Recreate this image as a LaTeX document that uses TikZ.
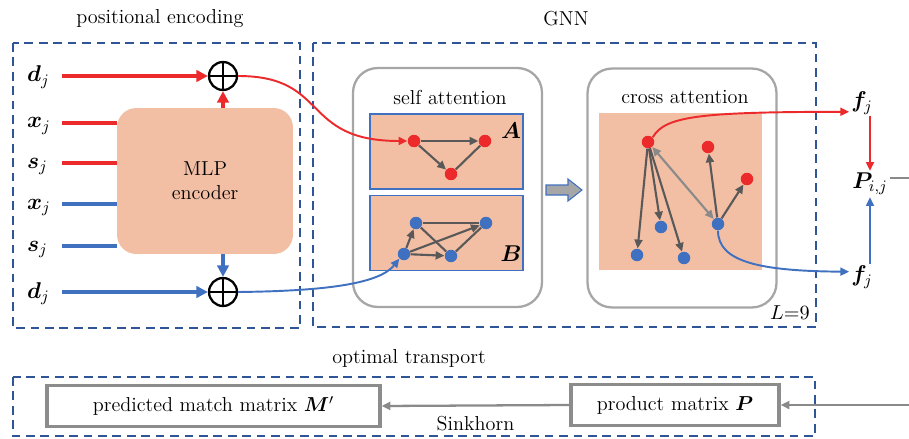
\RequirePackage{fix-cm}
\documentclass[tikz,border=0pt]{standalone}
\usepackage{amsmath,amssymb,bm}
\usepackage{xcolor}
\usepackage{tikz}
\usetikzlibrary{calc,arrows.meta}
\definecolor{peach}{HTML}{F2BFA4}
\definecolor{hot}{HTML}{EC2A2B}
\definecolor{cool}{HTML}{4070C0}
\definecolor{frameblue}{HTML}{2F5596}
\definecolor{boxgray}{HTML}{A6A6A6}
\definecolor{matgray}{HTML}{8C8C8C}
\definecolor{edge}{HTML}{595959}
\definecolor{edgelight}{HTML}{8A8A8A}
\tikzset{
  frame/.style={draw=frameblue, line width=1.3pt, dash pattern=on 5pt off 3.2pt},
  vec/.style={inner sep=1pt, font=\fontsize{13}{15}\selectfont},
  mlp/.style={fill=peach, rounded corners=11pt, minimum width=3.52cm, minimum height=2.92cm, align=center},
  plus/.style={circle, draw, line width=1.3pt, minimum size=0.56cm, inner sep=0pt,
    path picture={\draw[line width=1.3pt] (path picture bounding box.north) -- (path picture bounding box.south)
      (path picture bounding box.west) -- (path picture bounding box.east);}},
  hotin/.style={draw=hot, line width=2.3pt},
  coolin/.style={draw=cool, line width=2.3pt},
  tipbig/.style={-{Triangle[length=6.5pt,width=6.5pt]}},
  hotcurve/.style={draw=hot, line width=1.1pt, -{Triangle[length=5pt,width=4.5pt]}},
  coolcurve/.style={draw=cool, line width=1.1pt, -{Triangle[length=5pt,width=4.5pt]}},
  stage/.style={draw=boxgray, line width=1.3pt, rounded corners=14pt, minimum width=3.78cm, minimum height=4.78cm},
  graphbg/.style={fill=peach, draw=cool, line width=0.6pt, minimum width=3.06cm, minimum height=1.5cm},
  hotdot/.style={circle, fill=hot, inner sep=0pt, minimum size=0.25cm},
  cooldot/.style={circle, fill=cool, inner sep=0pt, minimum size=0.25cm},
  edgeln/.style={draw=edge, line width=1.2pt},
  edgearr/.style={edgeln, -{Triangle[length=5pt,width=4.5pt]}},
  edgedbl/.style={draw=edgelight, line width=1.2pt, {Triangle[length=5pt,width=4.5pt]}-{Triangle[length=5pt,width=4.5pt]}},
  matbox/.style={draw=matgray, line width=1.8pt, minimum height=0.82cm},
  flow/.style={draw=edgelight, line width=1.3pt, -{Triangle[length=5pt,width=4.5pt]}},
  flowln/.style={draw=edgelight, line width=1.3pt}
}
\begin{document}
\begin{tikzpicture}[x=0.02cm, y=-0.02cm, every node/.append style={font=\fontsize{11.5}{13.5}\selectfont}]
\useasboundingbox (0,0) rectangle (909,439);

\node (tPE) at (160,19) {positional encoding};
\node (tGNN) at (566,19) {GNN};
\node (tOT) at (409,358) {optimal transport};
\draw[frame] (13,43) rectangle (300,328);
\draw[frame] (313,43) rectangle (816,327);
\draw[frame] (13,377) rectangle (815,436);

\node[mlp] (mlp) at (205,181) {MLP\\encoder};
\node[plus] (opA) at (223,76) {};
\node[plus] (opB) at (223,292) {};

\node[vec, anchor=base west] (dA) at (25,82) {$\bm{d}_j$};
\node[vec, anchor=base west] (xA) at (25,128) {$\bm{x}_j$};
\node[vec, anchor=base west] (sA) at (25,168) {$\bm{s}_j$};
\node[vec, anchor=base west] (xB) at (25,209) {$\bm{x}_j$};
\node[vec, anchor=base west] (sB) at (25,251) {$\bm{s}_j$};
\node[vec, anchor=base west] (dB) at (25,298) {$\bm{d}_j$};

\coordinate (inA) at (62,76);
\coordinate (inB) at (62,123);
\coordinate (inC) at (62,163);
\coordinate (inD) at (62,204);
\coordinate (inE) at (62,246);
\coordinate (inF) at (62,292);
\draw[hotin, tipbig] (inA) -- (opA.west);
\draw[hotin] (inB) -- (inB -| mlp.west);
\draw[hotin] (inC) -- (inC -| mlp.west);
\draw[coolin] (inD) -- (inD -| mlp.west);
\draw[coolin] (inE) -- (inE -| mlp.west);
\draw[coolin, tipbig] (inF) -- (opB.west);
\draw[hotin, tipbig] (mlp.north -| opA) -- (opA.south);
\draw[coolin, tipbig] (mlp.south -| opB) -- (opB.north);

\node[stage] (selfSt) at (447.5,187.5) {};
\node (selfT) at (450,97) {self attention};
\node[graphbg] (grA) at (446.5,151.5) {};
\node[graphbg] (grB) at (446.5,233) {};
\node[vec] (labA) at (511,131) {$\bm{A}$};
\node[vec] (labB) at (511,254) {$\bm{B}$};
\node[hotdot] (a1) at (414,141) {};
\node[hotdot] (a2) at (485,141) {};
\node[hotdot] (a3) at (451,174) {};
\node[cooldot] (b1) at (416,223) {};
\node[cooldot] (b2) at (486,223) {};
\node[cooldot] (b3) at (404,254) {};
\node[cooldot] (b4) at (451,256) {};
\draw[edgearr] (a1) -- (a2);
\draw[edgearr] (a1) -- (a3);
\draw[edgeln] (a3) -- (a2);
\draw[edgeln] (b1) -- (b2);
\draw[edgeln] (b1) -- (b4);
\draw[edgeln] (b4) -- (b2);
\draw[edgearr] (b3) -- (b1);
\draw[edgearr] (b3) -- (b2);
\draw[edgearr] (b3) -- (b4);

\draw[hotcurve] (opA.east) .. controls (330,76) and (300,141) .. (a1.west);
\draw[coolcurve] (opB.east) .. controls (330,291) and (380,283) .. (b3.south west);

\draw[fill=boxgray, draw=cool, line width=0.6pt] (546,185) -- (568,185) -- (568,179) -- (582,190)
  -- (568,201) -- (568,195) -- (546,195) -- cycle;

\node[stage] (crossSt) at (682,188) {};
\node (crossT) at (685,97) {cross attention};
\node[fill=peach, minimum width=3.26cm, minimum height=3.14cm] (grC) at (680.5,191.5) {};
\node[hotdot] (r1) at (648,142) {};
\node[hotdot] (r2) at (708,147) {};
\node[hotdot] (r3) at (747,179) {};
\node[cooldot] (c1) at (718,224) {};
\node[cooldot] (c2) at (661,227) {};
\node[cooldot] (c3) at (637,255) {};
\node[cooldot] (c4) at (684,258) {};
\draw[edgearr] (r1) -- (c3);
\draw[edgearr] (r1) -- (c2);
\draw[edgearr] (r1) -- (c4);
\draw[edgedbl] (r1) -- (c1);
\draw[edgearr] (c1) -- (r2);
\draw[edgearr] (c1) -- (r3);
\node (Lnum) at (790,313) {$L{=}9$};

\node[vec] (fA) at (862,103) {$\bm{f}_j$};
\node[vec] (fB) at (862,277) {$\bm{f}_j$};
\node[vec] (Pij) at (870,184) {$\bm{P}_{i,j}$};
\draw[hotcurve] (r1.north east) .. controls (665,116) and (700,112) .. ([yshift=-5pt]fA.west);
\draw[coolcurve] (c1.south) .. controls (718,262) and (760,271) .. ([yshift=3pt]fB.west);
\draw[hotcurve] (fA.south -| Pij.north) -- (Pij.north);
\draw[coolcurve] (fB.north -| Pij.south) -- (Pij.south);
\coordinate (eR) at (909,178);
\draw[flowln] (Pij.east |- eR) -- (eR);

\node[matbox, minimum width=6.66cm] (pred) at (213.5,406) {predicted match matrix $\bm{M}'$};
\node[matbox, minimum width=4.16cm] (prod) at (675,405) {product matrix $\bm{P}$};
\coordinate (eB) at (909,405);
\draw[flow] (prod.west) -- node[below=2pt] (sink) {Sinkhorn} (pred.east);
\draw[flow] (eB) -- (prod.east);
\end{tikzpicture}
\end{document}
